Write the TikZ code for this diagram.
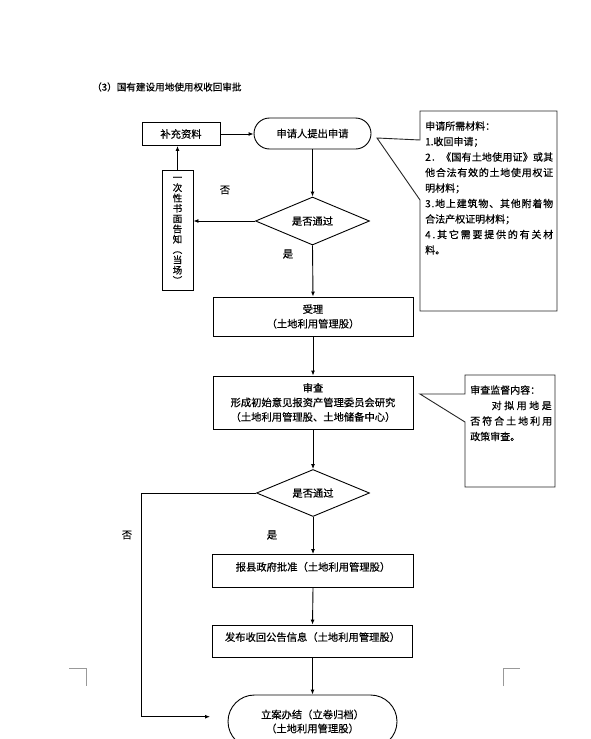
\documentclass[tikz,border=0pt]{standalone}
\usepackage{fontspec}
\setmainfont{Noto Sans CJK SC}[FakeBold=0.4]
\usetikzlibrary{arrows.meta,shapes.geometric,shapes.misc}
\makeatletter
\newcommand\jline[2]{\makebox[#1][s]{\jl@first#2\jl@end}}
\def\jl@end{}
\def\jl@first#1{#1\jl@loop}
\def\jl@loop#1{\ifx\jl@end#1\else\hskip 0pt plus 1fil\relax#1\expandafter\jl@loop\fi}
\makeatother
\tikzset{
  flowbox/.style={draw, line width=0.9pt, rectangle, inner sep=0pt, align=center,
    font=\fontsize{10.3}{14.5}\selectfont},
  stadium/.style={draw, line width=0.9pt, rounded rectangle, inner sep=0pt, align=center,
    font=\fontsize{10.3}{14}\selectfont},
  decision/.style={draw, line width=0.9pt, diamond, inner sep=0pt, shape aspect=2.4,
    font=\fontsize{10.3}{12}\selectfont},
  arr/.style={-{Latex[length=5pt,width=4pt]}, line width=0.9pt},
  lbl/.style={inner sep=0pt, font=\fontsize{10.3}{12}\selectfont},
  ctext/.style={anchor=base west, inner sep=0pt, font=\fontsize{10}{12}\selectfont},
  calloutshape/.style={draw=black!85, line width=0.9pt, fill=white},
  cornermark/.style={draw=black!40, line width=0.6pt}
}
\begin{document}
\begin{tikzpicture}[x=1pt,y=-1pt]
\fill[white] (0,0) rectangle (591,739);
\useasboundingbox (0,0) rectangle (591,739);
\clip (0,0) rectangle (591,739);

% title
\node[anchor=west, inner sep=0pt, font=\fontsize{9.6}{12}\selectfont] (title) at (92,87) {（3）国有建设用地使用权收回审批};

% main nodes
\node[flowbox, minimum width=78, minimum height=23] (bc) at (181,134) {补充资料};
\node[stadium, minimum width=117, minimum height=31] (sq) at (312.5,133.5) {申请人提出申请};
\node[decision, minimum width=114, minimum height=48] (d1) at (312.5,221) {是否通过};
\node[flowbox, minimum width=31, minimum height=120, text width=31pt, font=\fontsize{9.5}{10.3}\selectfont] (vt) at (177.5,230.5)
  {一\\次\\性\\书\\面\\告\\知\\︵\\当\\场\\︶};
\node[flowbox, minimum width=200, minimum height=39] (sl) at (313,316.5) {受理\\（土地利用管理股）};
\node[flowbox, minimum width=200, minimum height=53] (sc) at (313,402.5)
  {审查\\形成初始意见报资产管理委员会研究\\（土地利用管理股、土地储备中心）};
\node[decision, minimum width=113, minimum height=47] (d2) at (313,493) {是否通过};
\node[flowbox, minimum width=201, minimum height=33, text height=3pt, text depth=3.4pt] (bx) at (313,571)
  {报县政府批准（土地利用管理股）};
\node[flowbox, minimum width=200, minimum height=32, text height=3pt, text depth=3pt] (fb) at (312.5,641)
  {发布收回公告信息（土地利用管理股）};
\node[stadium, minimum width=169, minimum height=53] (la) at (312.5,721.5)
  {立案办结（立卷归档）\\（土地利用管理股）};

% labels
\node[lbl] (no1) at (225,190) {否};
\node[lbl] (yes1) at (288,254) {是};
\node[lbl] (yes2) at (272,535) {是};
\node[lbl] (no2) at (127,535) {否};

% connectors
\draw[arr] (bc.east) -- (bc.east -| sq.west);
\draw[arr] (sq.south) -- (d1.north);
\draw[arr] (d1.west) -- (d1.west -| vt.east);
\draw[arr] (vt.north) -- (vt.north |- bc.south);
\draw[arr] (d1.south) -- (sl.north);
\draw[arr] (sl.south) -- (sc.north);
\draw[arr] (sc.south) -- (d2.north);
\draw[arr] (d2.south) -- (bx.north);
\draw[arr] (bx.south) -- (fb.north);
\draw[arr] (fb.south) -- (la.north);
\coordinate (nb) at (141,716.7);
\coordinate (ne) at (210,716.7);
\draw[arr] (d2.west) -| (nb) -- (ne);

% callout 1
\draw[calloutshape] (420,111) -- (557,111) -- (557,311) -- (420,311) -- (420,200) -- (377,138) -- (420,140) -- cycle;
\node[ctext] (c1a) at (425,129.8) {申请所需材料：};
\node[ctext] (c1b) at (425,145.3) {1.收回申请；};
\node[ctext] (c1c) at (425,160.8) {\jline{128pt}{2．《国有土地使用证》或其}};
\node[ctext] (c1d) at (425,176.3) {\jline{128pt}{他合法有效的土地使用权证}};
\node[ctext] (c1e) at (425,191.8) {明材料；};
\node[ctext] (c1f) at (425,207.3) {\jline{128pt}{3.地上建筑物、其他附着物}};
\node[ctext] (c1g) at (425,222.8) {合法产权证明材料；};
\node[ctext] (c1h) at (425,238.3) {\jline{128pt}{4.其它需要提供的有关材}};
\node[ctext] (c1i) at (425,253.8) {料。};

% callout 2
\draw[calloutshape] (465,375) -- (555,375) -- (555,487) -- (465,487) -- (465,422) -- (420,394) -- (465,394) -- cycle;
\node[ctext] (c2a) at (470,393.8) {审查监督内容：};
\node[ctext] (c2b) at (491.5,409.3) {\jline{60pt}{对拟用地是}};
\node[ctext] (c2c) at (470,424.8) {\jline{82pt}{否符合土地利用}};
\node[ctext] (c2d) at (470,440.3) {政策审查。};

% page corner marks
\draw[cornermark] (69,668) -- (86,668) -- (86,686);
\draw[cornermark] (503,686) -- (503,668) -- (520,668);
\end{tikzpicture}
\end{document}
